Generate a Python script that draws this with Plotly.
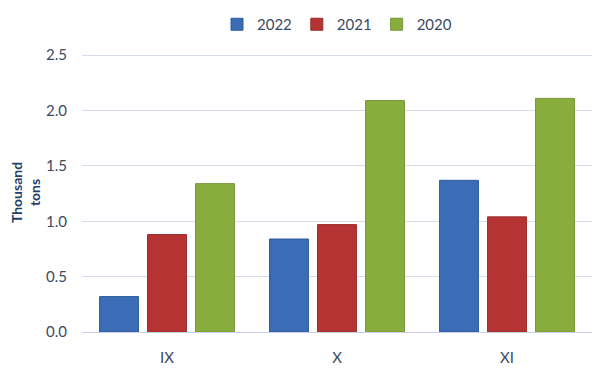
import plotly.graph_objects as go

categories = ["IX", "X", "XI"]
series_names = ["2022", "2021", "2020"]
values_2022 = [0.32, 0.84, 1.37]
values_2021 = [0.88, 0.97, 1.04]
values_2020 = [1.34, 2.09, 2.11]
y_ticks = [0.0, 0.5, 1.0, 1.5, 2.0, 2.5]
y_tick_labels = ["0.0", "0.5", "1.0", "1.5", "2.0", "2.5"]

colors = ["#3a6db5", "#b53433", "#89ad3d"]
lines = ["#2f5c9c", "#9a2b2b", "#76963a"]

fig = go.Figure()
for name, vals, c, lc in zip(series_names, [values_2022, values_2021, values_2020], colors, lines):
    fig.add_trace(go.Bar(name=name, x=categories, y=vals,
                         marker=dict(color=c, line=dict(color=lc, width=1))))

font_family = "Lato, 'Open Sans', sans-serif"
# page body has an 8px margin, so the figure is 8px smaller than the window
fig.update_layout(
    width=592, height=362,
    margin=dict(l=74, r=8, t=45, b=38, autoexpand=False),
    paper_bgcolor="white", plot_bgcolor="white",
    barmode="group", bargap=0.153, bargroupgap=0.19,
    font=dict(family=font_family, color="#3b4a63", size=14),
    legend=dict(orientation="h", x=0.5, xanchor="center", y=1.0, yref="container",
                yanchor="top", font=dict(size=15, color="#3b4a63"),
                itemwidth=30, tracegroupgap=0, bgcolor="rgba(0,0,0,0)"),
    showlegend=True,
)
fig.update_yaxes(range=[0, 2.52], tickvals=y_ticks, ticktext=y_tick_labels,
                 showgrid=True, gridcolor="#d5dcea", gridwidth=1,
                 zeroline=False, showline=False, ticks="", ticklabelstandoff=14,
                 tickfont=dict(size=15),
                 title=dict(text="<b>Thousand<br>tons</b>", font=dict(size=14, color="#24406a"), standoff=10))
fig.update_xaxes(showline=True, linecolor="#c8d2e4", linewidth=1, ticks="",
                 showgrid=False, tickfont=dict(size=15, color="#3b4a63"), ticklabelstandoff=12)

fig.write_html("out.html")
